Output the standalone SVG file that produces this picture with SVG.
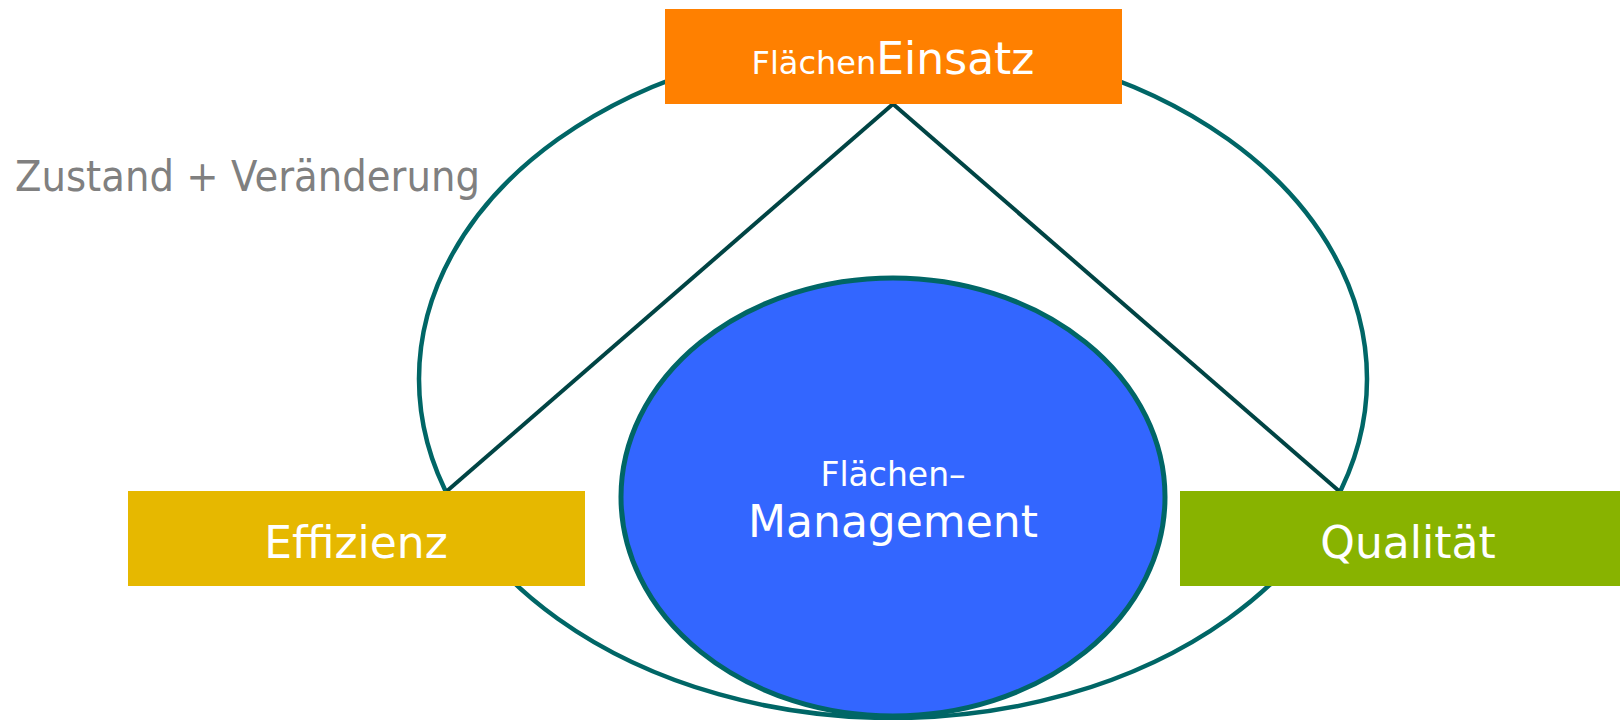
<svg xmlns="http://www.w3.org/2000/svg" width="1620" height="720" viewBox="0 0 1620 720">
<style>
.t{font-family:"DejaVu Sans","Liberation Sans",sans-serif;fill:#FFFFFF;text-anchor:middle}
.big{font-size:44px}
.small{font-size:33px}
.ring{fill:none;stroke:#006666;stroke-width:4.5}
.link{stroke:#004444;stroke-width:4;fill:none}
</style>
<rect width="1620" height="720" fill="#FFFFFF"/>
<g id="outer-cycle">
<ellipse class="ring" cx="893" cy="379" rx="474" ry="339"/>
</g>
<g id="connectors">
<line class="link" x1="893" y1="104" x2="447" y2="491"/>
<line class="link" x1="893" y1="104" x2="1339" y2="491"/>
</g>
<g id="label-zustand">
<text x="15" y="191" font-family="DejaVu Sans, Liberation Sans, sans-serif" font-size="42" fill="#808080" textLength="465" lengthAdjust="spacingAndGlyphs">Zustand + Veränderung</text>
</g>
<g id="node-management">
<ellipse cx="893" cy="497" rx="272" ry="219" fill="#3366FF" stroke="#006666" stroke-width="5"/>
<text class="t small" x="893" y="486">Flächen–</text>
<text class="t big" x="893" y="537">Management</text>
</g>
<g id="node-einsatz">
<rect x="665" y="9" width="457" height="95" fill="#FF8000"/>
<text class="t" x="893" y="74"><tspan font-size="32">Flächen</tspan><tspan font-size="44">Einsatz</tspan></text>
</g>
<g id="node-effizienz">
<rect x="128" y="491" width="457" height="95" fill="#E6B800"/>
<text class="t big" x="356" y="558">Effizienz</text>
</g>
<g id="node-qualitaet">
<rect x="1180" y="491" width="457" height="95" fill="#88B300"/>
<text class="t big" x="1408" y="558">Qualität</text>
</g>
</svg>
